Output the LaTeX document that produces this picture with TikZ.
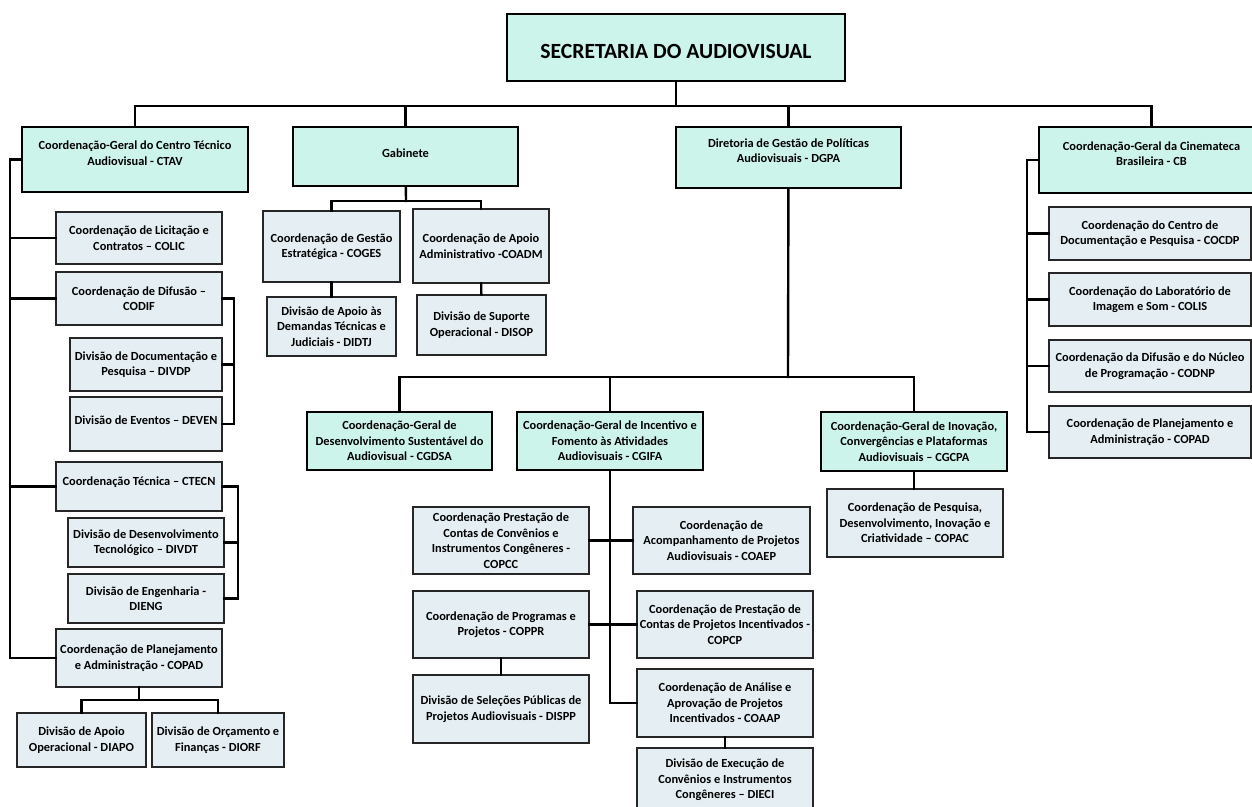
\documentclass[tikz,border=0pt]{standalone}
\usepackage{fontspec}
\setmainfont{Carlito}
\usetikzlibrary{positioning}
\definecolor{headfill}{RGB}{205,244,235}
\definecolor{subfill}{RGB}{228,238,243}

\begin{document}
\begin{tikzpicture}[x=0.025cm,y=-0.025cm,
			every node/.style={
				align=center,
				inner xsep=1pt,
				font=\fontsize{8.8}{11}\selectfont\bfseries},
			titlebox/.style={draw, line width=1.5pt, fill=headfill},
			headbox/.style={draw, line width=1.8pt, fill=headfill},
			subbox/.style={draw=black!85, line width=0.9pt, fill=subfill},
			link/.style={line width=1.7pt, line cap=rect}]
			
			\useasboundingbox (0,0) rectangle (1252,807);
			
			% topo
			\node (sav) [titlebox, minimum width=8.45cm, minimum height=1.675cm,
				label={[yshift=-3pt, font=\fontsize{15.4}{18}\selectfont\bfseries]center:SECRETARIA DO AUDIOVISUAL}] at (676,47.5) {};
			
			\node (ctav) [headbox, minimum width=5.65cm, minimum height=1.625cm,
				label={[yshift=4.6pt]center:Coordenação-Geral do Centro Técnico\\Audiovisual - CTAV}] at (135,159.5) {};
			\node (gab) [headbox, minimum width=5.625cm, minimum height=1.475cm,
				label={[yshift=2.5pt]center:Gabinete}] at (405.5,156.5) {};
			\node (dgpa) [headbox, minimum width=5.625cm, minimum height=1.525cm,
				label={[yshift=5pt]center:Diretoria de Gestão de Políticas\\Audiovisuais - DGPA}] at (788.5,157.5) {};
			\node (cb) [headbox, minimum width=5.625cm, minimum height=1.65cm,
				label={[yshift=4.6pt]center:Coordenação-Geral da Cinemateca\\Brasileira - CB}] at (1151.5,160) {};
			
			% CTAV
			\node (colic) [subbox, minimum width=4.15cm, minimum height=1.3cm] at (139,238) {Coordenação de Licitação e\\Contratos – COLIC};
			\node (codif) [subbox, minimum width=4.15cm, minimum height=1.325cm] at (139,298.5) {Coordenação de Difusão –\\CODIF};
			\node (divdp) [subbox, minimum width=3.8cm, minimum height=1.325cm] at (146,364.5) {Divisão de Documentação e\\Pesquisa – DIVDP};
			\node (deven) [subbox, minimum width=3.8cm, minimum height=1.35cm,
				label={[yshift=3pt]center:Divisão de Eventos – DEVEN}] at (146,424) {};
			\node (ctecn) [subbox, minimum width=4.15cm, minimum height=1.225cm,
				label={[yshift=3pt]center:Coordenação Técnica – CTECN}] at (139,486.5) {};
			\node (divdt) [subbox, minimum width=3.9cm, minimum height=1.225cm] at (146,542.5) {Divisão de Desenvolvimento\\Tecnológico – DIVDT};
			\node (dieng) [subbox, minimum width=3.9cm, minimum height=1.225cm] at (146,598.5) {Divisão de Engenharia -\\DIENG};
			\node (copad) [subbox, minimum width=4.15cm, minimum height=1.45cm] at (139,658) {Coordenação de Planejamento\\e Administração - COPAD};
			\node (diapo) [subbox, minimum width=3.225cm, minimum height=1.35cm] at (81.5,740) {Divisão de Apoio\\Operacional - DIAPO};
			\node (diorf) [subbox, minimum width=3.3cm, minimum height=1.35cm] at (218,740) {Divisão de Orçamento e\\Finanças - DIORF};
			
			% Gabinete
			\node (coges) [subbox, minimum width=3.425cm, minimum height=1.775cm] at (331.5,246.5) {Coordenação de Gestão\\Estratégica - COGES};
			\node (coadm) [subbox, minimum width=3.4cm, minimum height=1.85cm] at (481,246) {Coordenação de Apoio\\Administrativo -COADM};
			\node (didtj) [subbox, minimum width=3.225cm, minimum height=1.475cm] at (331.5,326.5) {Divisão de Apoio às\\Demandas Técnicas e\\Judiciais - DIDTJ};
			\node (disop) [subbox, minimum width=3.225cm, minimum height=1.5cm] at (481.5,325) {Divisão de Suporte\\Operacional - DISOP};
			
			% DGPA
			\node (cgdsa) [headbox, minimum width=4.625cm, minimum height=1.45cm] at (399.5,441) {Coordenação-Geral de\\Desenvolvimento Sustentável do\\Audiovisual - CGDSA};
			\node (cgifa) [headbox, minimum width=4.65cm, minimum height=1.45cm] at (610,441) {Coordenação-Geral de Incentivo e\\Fomento às Atividades\\Audiovisuais - CGIFA};
			\node (cgcpa) [headbox, minimum width=4.65cm, minimum height=1.475cm] at (914,441.5) {Coordenação-Geral de Inovação,\\Convergências e Plataformas\\Audiovisuais – CGCPA};
			\node (copac) [subbox, minimum width=4.4cm, minimum height=1.7cm] at (915,523) {Coordenação de Pesquisa,\\Desenvolvimento, Inovação e\\Criatividade – COPAC};
			
			\node (copcc) [subbox, minimum width=4.4cm, minimum height=1.675cm] at (501,540.5) {Coordenação Prestação de\\Contas de Convênios e\\Instrumentos Congêneres -\\COPCC};
			\node (coaep) [subbox, minimum width=4.425cm, minimum height=1.675cm] at (721.5,540.5) {Coordenação de\\Acompanhamento de Projetos\\Audiovisuais - COAEP};
			\node (coppr) [subbox, minimum width=4.4cm, minimum height=1.675cm] at (501,624.5) {Coordenação de Programas e\\Projetos - COPPR};
			\node (copcp) [subbox, minimum width=4.4cm, minimum height=1.675cm] at (725,624.5) {Coordenação de Prestação de\\Contas de Projetos Incentivados -\\COPCP};
			\node (dispp) [subbox, minimum width=4.4cm, minimum height=1.7cm] at (501,709) {Divisão de Seleções Públicas de\\Projetos Audiovisuais - DISPP};
			\node (coaap) [subbox, minimum width=4.4cm, minimum height=1.7cm] at (725,703) {Coordenação de Análise e\\Aprovação de Projetos\\Incentivados - COAAP};
			\node (dieci) [subbox, minimum width=4.4cm, minimum height=1.6cm] at (725,780) {Divisão de Execução de\\Convênios e Instrumentos\\Congêneres – DIECI};
			
			% CB
			\node (cocdp) [subbox, minimum width=5.05cm, minimum height=1.325cm] at (1150,233.5) {Coordenação do Centro de\\Documentação e Pesquisa - COCDP};
			\node (colis) [subbox, minimum width=5.05cm, minimum height=1.325cm] at (1150,299.5) {Coordenação do Laboratório de\\Imagem e Som - COLIS};
			\node (codnp) [subbox, minimum width=5.05cm, minimum height=1.3cm] at (1150,366) {Coordenação da Difusão e do Núcleo\\de Programação - CODNP};
			\node (copadcb) [subbox, minimum width=5.05cm, minimum height=1.3cm] at (1150,432) {Coordenação de Planejamento e\\Administração - COPAD};
			
			% pontos de ligação
			\coordinate (bus) at (676,106);
			\coordinate (ctavspine) at (10,658);
			\coordinate (difspine) at (234,424);
			\coordinate (tecspine) at (238,598.5);
			\coordinate (padbus) at (139,700);
			\coordinate (gabbus) at (406,201);
			\coordinate (dgpabus) at (788,377);
			\coordinate (ifaspine) at (610,703);
			\coordinate (cbspine) at (1027,432);
			
			\draw[link] (sav) -- (bus);
			\draw[link] (ctav.north) |- (bus) -| (cb.north);
			\draw[link] (gab.north) -- (gab.north |- bus);
			\draw[link] (dgpa.north) -- (dgpa.north |- bus);
			
			\draw[link] (ctav.west) -| (ctavspine) -- (copad.west);
			\draw[link] (colic.west) -- (colic.west -| ctavspine);
			\draw[link] (codif.west) -- (codif.west -| ctavspine);
			\draw[link] (ctecn.west) -- (ctecn.west -| ctavspine);
			\draw[link] (codif.east) -| (difspine) -- (deven.east);
			\draw[link] (divdp.east) -- (divdp.east -| difspine);
			\draw[link] (ctecn.east) -| (tecspine) -- (dieng.east);
			\draw[link] (divdt.east) -- (divdt.east -| tecspine);
			\draw[link] (copad) -- (padbus);
			\draw[link] (diapo.north) |- (padbus) -| (diorf.north);
			
			\draw[link] (gab) -- (gabbus);
			\draw[link] (coges.north) |- (gabbus) -| (coadm.north);
			\draw[link] (coges) -- (didtj);
			\draw[link] (coadm) -- (disop);
			
			\draw[link] (dgpa) -- (dgpabus);
			\draw[link] (cgdsa.north) |- (dgpabus) -| (cgcpa.north);
			\draw[link] (cgifa.north) -- (cgifa.north |- dgpabus);
			\draw[link] (cgcpa.south) -- (cgcpa.south |- copac.north);
			\draw[link] (cgifa) -- (ifaspine) -- (coaap.west);
			\draw[link] (copcc.east) -- (coaep.west);
			\draw[link] (coppr.east) -- (copcp.west);
			\draw[link] (coppr) -- (dispp);
			\draw[link] (coaap) -- (dieci);
			
			\draw[link] (cb.west) -| (cbspine) -- (copadcb.west);
			\draw[link] (cocdp.west) -- (cocdp.west -| cbspine);
			\draw[link] (colis.west) -- (colis.west -| cbspine);
			\draw[link] (codnp.west) -- (codnp.west -| cbspine);
			
		\end{tikzpicture}
\end{document}
